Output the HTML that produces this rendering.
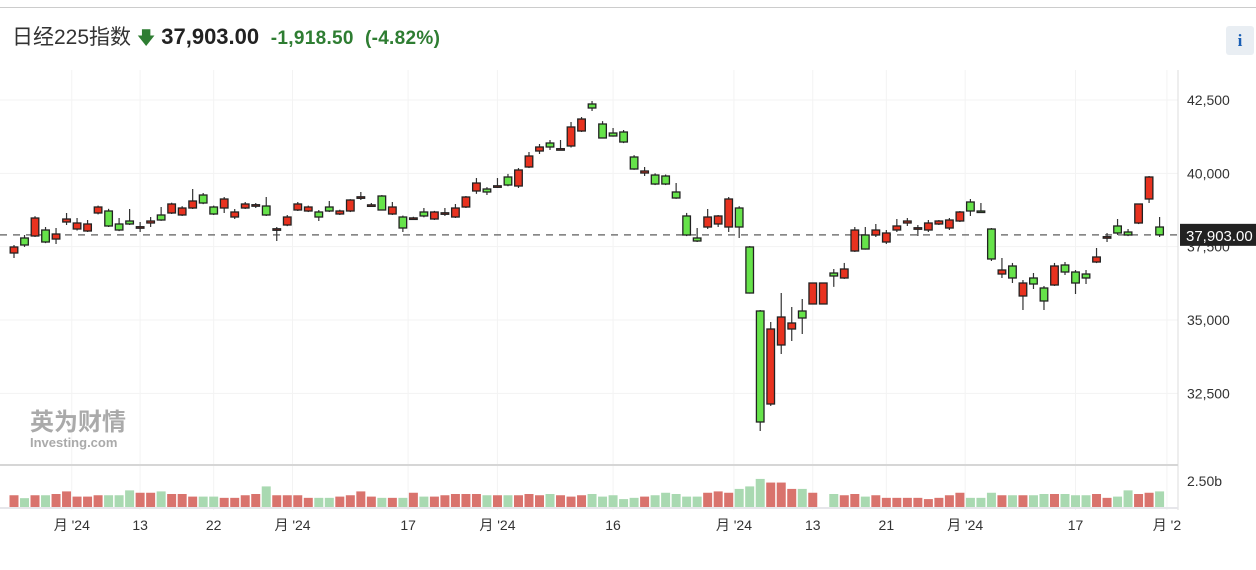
<!DOCTYPE html>
<html><head><meta charset="utf-8">
<style>
body{margin:0;width:1256px;height:570px;background:#fff;font-family:"Liberation Sans","Noto Sans CJK SC",sans-serif;overflow:hidden;position:relative}
.hdr{position:absolute;left:12px;top:21px;font-size:21px;color:#333;white-space:nowrap}
.hdr b{font-size:22px;color:#222}
.hdr .chg{color:#2e7d32;font-weight:bold;font-size:19px;letter-spacing:0.3px}
.info{position:absolute;left:1226px;top:26px;width:28px;height:29px;background:#e9eef3;border-radius:3px;color:#1a5fb4;font:bold 17px "Liberation Serif",serif;text-align:center;line-height:29px}
.topbar{position:absolute;left:0;top:0;width:1256px;height:7px;border-bottom:1px solid #ccc}
</style></head><body>
<div class="topbar"></div>
<div class="hdr"><span>日经225指数</span> <span style="color:#2e7d32;font-size:18px">&#x1F847;</span> <b>37,903.00</b> &nbsp;<span class="chg">-1,918.50 &nbsp;(-4.82%)</span></div>
<div class="info">i</div>
<svg id="chart" width="1256" height="570" style="position:absolute;left:0;top:0"></svg>
<script>
const opens=[37284,37796,37864,38068,37760,38341,38102,38034,38648,38716,38273,38375,38170,38307,38580,38648,38580,38818,39261,38852,38818,38511,38818,38921,38886,38102,38239,38750,38716,38682,38852,38614,38716,39193,38921,39227,38614,38511,38443,38682,38443,38648,38511,38852,39398,39466,39568,39875,39568,40216,40761,41034,40830,40932,41443,42364,41682,41375,41409,40557,40011,39943,39909,39364,38546,37796,38170,38273,38170,38818,37489,35307,32136,34148,34693,35307,35546,35546,36602,36432,37352,37898,37898,37659,38068,38307,38136,38068,38273,38136,38375,39023,38716,38102,36568,36841,35818,36432,36091,36193,36875,36636,36568,36977,37830,38205,38000,38307,39125,38170];
const highs=[37557,37898,38540,38170,38136,38648,38477,38409,38900,38790,38477,38784,38341,38511,38852,39000,38880,39466,39330,38900,39193,38784,39023,38989,39193,38170,38580,39023,38900,38750,39057,38760,39120,39364,38989,39260,39023,38560,38520,38818,38720,38818,38955,39227,39840,39530,39840,39980,40180,40727,41000,41136,41136,41750,41920,42466,41780,41545,41477,40620,40216,40000,39960,39670,38650,38136,38784,38580,39193,38880,37520,35341,34932,35920,35443,35716,36261,36261,36739,36945,38170,38170,38273,38068,38443,38477,38239,38409,38409,38477,38716,39125,38989,38136,37114,36945,36364,36602,36160,36945,36977,36705,36705,37455,37966,38443,38102,38970,39909,38511];
const lows=[37114,37490,37830,37620,37591,38239,38050,38000,38600,38170,38030,38240,38000,38170,38380,38614,38546,38784,38950,38580,38648,38443,38784,38818,38546,37693,38200,38716,38680,38375,38680,38580,38680,39091,38852,38750,38580,38000,38410,38500,38410,38546,38477,38818,39300,39261,39500,39560,39500,40180,40660,40795,40795,40880,41409,42125,41205,41250,41030,40120,39909,39600,39600,39130,37860,37659,38102,38170,38000,37796,35900,31216,32070,33841,34284,34523,35546,35546,36130,36400,37320,37400,37830,37591,38000,38205,37864,38000,38239,38068,38340,38546,38648,37011,36432,36261,35341,36057,35341,36160,36534,35886,36227,36940,37659,37900,37860,38270,38989,37830];
const closes=[37489,37557,38477,37659,37932,38443,38307,38273,38852,38205,38068,38273,38180,38375,38409,38955,38818,39057,38989,38614,39125,38682,38955,38930,38580,38110,38511,38955,38852,38511,38716,38716,39091,39200,38925,38750,38852,38136,38480,38546,38682,38655,38818,39193,39670,39364,39575,39602,40114,40591,40898,40898,40840,41580,41852,42227,41205,41273,41068,40148,40080,39636,39636,39159,37898,37693,38511,38546,39125,38170,35920,31523,34693,35102,34898,35068,36261,36261,36500,36739,38068,37420,38068,37966,38205,38375,38145,38307,38375,38409,38682,38716,38700,37080,36705,36432,36261,36227,35648,36841,36636,36261,36432,37148,37840,37966,37898,38955,39875,37903];
const volumes=[1.13,0.85,1.13,1.13,1.25,1.5,1.0,1.0,1.13,1.13,1.13,1.6,1.37,1.37,1.5,1.25,1.25,1.0,1.0,1.0,0.88,0.88,1.13,1.25,1.98,1.13,1.13,1.13,0.88,0.88,0.88,1.0,1.13,1.5,1.0,0.88,0.88,0.88,1.37,1.0,1.0,1.13,1.25,1.25,1.25,1.13,1.13,1.13,1.13,1.25,1.13,1.25,1.13,1.0,1.13,1.25,1.0,1.13,0.76,0.88,1.0,1.13,1.37,1.25,1.0,1.0,1.37,1.5,1.37,1.74,1.98,2.7,2.35,2.35,1.74,1.74,1.37,0,1.25,1.13,1.25,1.0,1.13,0.88,0.88,0.88,0.88,0.76,0.88,1.13,1.37,0.88,0.88,1.37,1.13,1.13,1.13,1.13,1.25,1.25,1.25,1.13,1.13,1.25,0.88,1.0,1.6,1.25,1.37,1.5];
const yTicks=[32500,35000,37500,40000,42500];
const yTickLabels=["32,500","35,000","37,500","40,000","42,500"];
const xTickIdx=[5.5,12,19,26.5,37.5,46,57,68.5,76,83,90.5,101,109.7];
const xTickLabels=["月 '24","13","22","月 '24","17","月 '24","16","月 '24","13","21","月 '24","17","月 '2"];
const lastPrice=37903;

const NS="http://www.w3.org/2000/svg";
const svg=document.getElementById('chart');
function el(tag,attrs,parent){const e=document.createElementNS(NS,tag);for(const k in attrs)e.setAttribute(k,attrs[k]);(parent||svg).appendChild(e);return e;}
const x=i=>14+i*10.51;
const y=p=>100+(42500-p)*0.029333;
const vy=v=>507-v*10.4;

yTicks.forEach((t,i)=>{
 const g=el('line',{x1:0,x2:1178,y1:y(t),y2:y(t),stroke:'#f3f3f3','stroke-width':1});
 
 
 const tx=el('text',{x:1187,y:y(t)+5,'font-size':14,fill:'#333','font-family':'Liberation Sans, sans-serif'});
 tx.textContent=yTickLabels[i];
 
 
});
xTickIdx.forEach((t,i)=>{
 const g=el('line',{x1:x(t),x2:x(t),y1:70,y2:510,stroke:'#f3f3f3','stroke-width':1});
 
 
 const tx=el('text',{x:x(t),y:530,'font-size':14,fill:'#333','text-anchor':'middle','font-family':'Liberation Sans, Noto Sans CJK SC, sans-serif'});
 tx.textContent=xTickLabels[i];
 
 
});
const wm=el('text',{x:30,y:430,'font-size':24,'font-weight':'bold',fill:'#aaaaaa','font-family':'Noto Sans CJK SC, sans-serif'});
wm.textContent='英为财情';


const wm2=el('text',{x:30,y:447,'font-size':13,'font-weight':'bold',fill:'#aaaaaa','font-family':'Liberation Sans, sans-serif'});
wm2.textContent='Investing.com';



const ax=el('line',{x1:1178,x2:1178,y1:70,y2:510,stroke:'#ddd','stroke-width':1});


const sep=el('line',{x1:0,x2:1178,y1:465,y2:465,stroke:'#d6d6d6','stroke-width':2});


const vb=el('line',{x1:0,x2:1178,y1:508,y2:508,stroke:'#e6e6ea','stroke-width':2});


const vt=el('text',{x:1187,y:486,'font-size':14,fill:'#333','font-family':'Liberation Sans, sans-serif'});
vt.textContent='2.50b';



volumes.forEach((v,i)=>{
 if(v<=0)return;
 const up=closes[i]>=opens[i];
 const r=el('rect',{x:x(i)-4.5,y:vy(v),width:9,height:507-vy(v),fill:up?'#d9736d':'#a9d9b1'});
 
 
});

const dl=el('line',{x1:0,x2:1178,y1:y(lastPrice),y2:y(lastPrice),stroke:'#777','stroke-width':1.5,'stroke-dasharray':'7,6'});



opens.forEach((o,i)=>{
 const c=closes[i],up=c>=o,cx=x(i);
 const g=el('g',{});
 
 
 el('line',{x1:cx,x2:cx,y1:y(highs[i]),y2:y(lows[i]),stroke:'#333','stroke-width':1.2},g);
 const top=y(Math.max(o,c)),bot=y(Math.min(o,c));
 const h=Math.max(bot-top,1.5);
 el('rect',{x:cx-3.8,y:top,width:7.6,height:h,fill:up?'#e8321f':'#66e34a',stroke:'#222','stroke-width':1.3},g);
});

const lb=el('rect',{x:1180,y:y(lastPrice)-11,width:76,height:22,fill:'#222'});


const lt=el('text',{x:1186,y:y(lastPrice)+6,'font-size':15,fill:'#fff','font-family':'Liberation Sans, sans-serif'});
lt.textContent='37,903.00';


</script>
</body></html>
